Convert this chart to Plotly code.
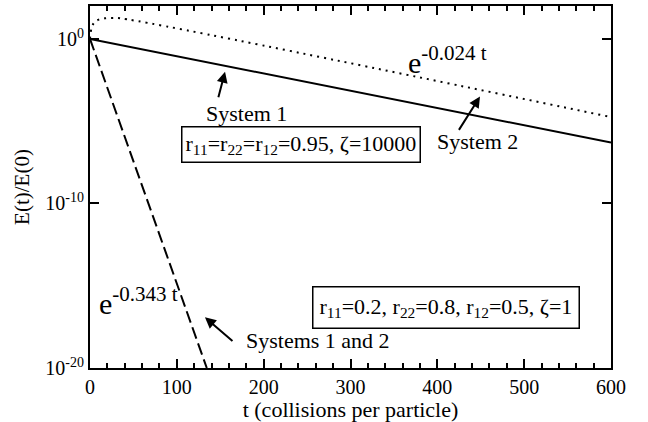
import plotly.graph_objects as go

# Energy ratio E(t)/E(0) read as log10 values against t (collisions per particle)
solid_t = [0, 600]
solid_log10 = [0.0, -6.3]

dotted_t = [0, 2, 5, 10, 17, 25, 35, 600]
dotted_log10 = [0.0, 0.7, 1.0, 1.17, 1.25, 1.27, 1.25, -4.75]

dashed_t = [0, 134.5]
dashed_log10 = [0.0, -20.0]

x_ticks = [0, 100, 200, 300, 400, 500, 600]
y_tick_vals = [1e-20, 1e-10, 1e0]
y_tick_text = ["10<sup>-20</sup>", "10<sup>-10</sup>", "10<sup>0</sup>"]

FONT = "Liberation Serif"


def to_value(logs):
    return [10 ** v for v in logs]


fig = go.Figure()

fig.add_trace(go.Scatter(
    x=solid_t, y=to_value(solid_log10), mode="lines",
    line=dict(color="black", width=2), showlegend=False))
fig.add_trace(go.Scatter(
    x=dotted_t, y=to_value(dotted_log10), mode="lines", line_shape="spline",
    line=dict(color="black", width=2, dash="2px,5px"), showlegend=False))
fig.add_trace(go.Scatter(
    x=dashed_t, y=to_value(dashed_log10), mode="lines",
    line=dict(color="black", width=2, dash="12px,5px"), showlegend=False))

axis_common = dict(
    showline=True, linecolor="black", linewidth=2, mirror="ticks",
    ticks="inside", tickcolor="black", tickwidth=1.5, ticklen=9,
    showgrid=False, zeroline=False,
    tickfont=dict(family=FONT, size=20, color="black"),
)

fig.update_xaxes(
    range=[0, 600], tickvals=x_ticks,
    minor=dict(dtick=20, ticks="inside", ticklen=5, tickwidth=1.5, tickcolor="black", showgrid=False),
    title=dict(text="t (collisions per particle)", font=dict(family=FONT, size=22, color="black"), standoff=1),
    **axis_common)
fig.update_yaxes(
    type="log", range=[-20, 2], tickvals=y_tick_vals, ticktext=y_tick_text,
    title=dict(text="E(t)/E(0)", font=dict(family=FONT, size=21, color="black"), standoff=10),
    **axis_common)

text_font = dict(family=FONT, size=22, color="black")

# arrows: (head t, head log10, tail t, tail log10)
arrows = [
    (155.5, -2.0, 147.4, -3.63),
    (449.1, -3.5, 423.8, -5.62),
    (132.4, -16.92, 165.8, -18.43),
]
for hx, hy, tx, ty in arrows:
    fig.add_annotation(
        x=hx, y=hy, ax=tx, ay=ty, xref="x", yref="y", axref="x", ayref="y",
        text="", showarrow=True, arrowhead=2, arrowsize=1.1, arrowwidth=2,
        arrowcolor="black")

labels = [
    ("System 1", 179.7, -4.53),
    ("System 2", 445.7, -6.22),
    ("Systems 1 and 2", 262.0, -18.31),
]
for txt, x, y in labels:
    fig.add_annotation(x=x, y=y, xref="x", yref="y", text=txt, showarrow=False,
                       font=text_font, xanchor="center", yanchor="middle")

boxes = [
    ("r<sub>11</sub>=r<sub>22</sub>=r<sub>12</sub>=0.95, ζ=10000", 242.5, -6.40, 3),
    ("r<sub>11</sub>=0.2, r<sub>22</sub>=0.8, r<sub>12</sub>=0.5, ζ=1", 410.0, -16.31, 6),
]
for txt, x, y, pad in boxes:
    fig.add_annotation(x=x, y=y, xref="x", yref="y", text=txt, showarrow=False,
                       font=text_font, xanchor="center", yanchor="middle",
                       bordercolor="black", borderwidth=1.5, borderpad=pad, bgcolor="white")

rates = [
    ("e<sup>-0.024 t</sup>", 364.0, -1.3),
    ("e<sup>-0.343 t</sup>", 8.0, -15.92),
]
for txt, x, y in rates:
    fig.add_annotation(x=x, y=y, xref="x", yref="y", text=txt, showarrow=False,
                       font=dict(family=FONT, size=30, color="black"),
                       xanchor="left", yanchor="middle")

fig.update_layout(
    width=648, height=422,
    margin=dict(l=90, r=37, t=4, b=54),
    plot_bgcolor="white", paper_bgcolor="white",
    font=dict(family=FONT, color="black"),
)

fig.write_html("out.html")
